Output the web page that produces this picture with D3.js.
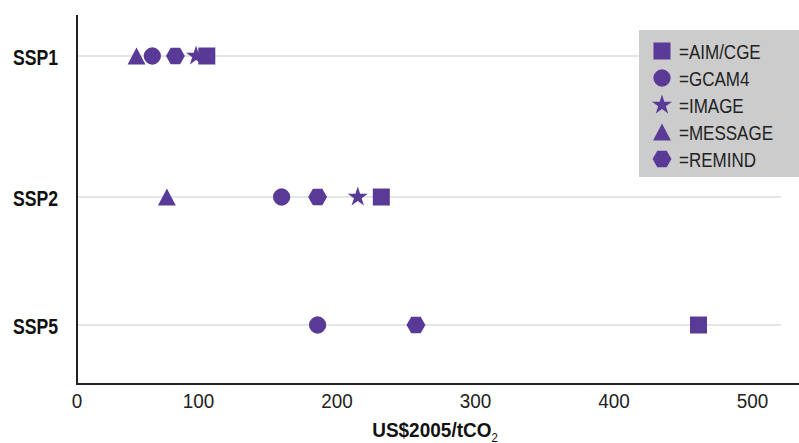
<!DOCTYPE html>
<html><head><meta charset="utf-8">
<script src="https://cdn.jsdelivr.net/npm/d3@7"></script>
<style>
body{margin:0;background:#fff;}
svg{display:block;font-family:"Liberation Sans",Arial,sans-serif;}
</style></head>
<body><svg id="c" width="799" height="443"></svg>
<script>
const scenarios = ["SSP1","SSP2","SSP5"];
const models = ["AIM/CGE","GCAM4","IMAGE","MESSAGE","REMIND"];
const xTicks = [0,100,200,300,400,500];
// carbon price values per model (null = no value), order matches scenarios
const aimcge  = [106, 232, 461];
const gcam4   = [62, 160, 186];
const image   = [98, 215, null];
const message = [49, 74, null];
const remind  = [81, 186, 257];
const seriesValues = [aimcge, gcam4, image, message, remind];

const purple = "#5a3a97";
const svg = d3.select("#c");

const x = d3.scaleLinear().domain([0,100,500]).range([77,198.5,752.5]);
const y = d3.scaleOrdinal().domain(scenarios).range([56,197,325]);

// condensed text helper: horizontal squeeze around anchor point
function squeezed(sel, k){
  sel.each(function(){
    const el=d3.select(this); const px=+el.attr("x"), py=+el.attr("y");
    el.attr("x",0).attr("y",0).attr("transform",`translate(${px},${py}) scale(${k},1)`);
  });
}

// symbol shapes
const hexagon = {draw(ctx,size){const r=Math.sqrt(size/(1.5*Math.sqrt(3)));
  for(let i=0;i<6;i++){const a=i*Math.PI/3;const px=r*Math.cos(a),py=r*Math.sin(a);
    if(i===0)ctx.moveTo(px,py);else ctx.lineTo(px,py);} ctx.closePath();}};
const triangle = {draw(ctx,size){const h=Math.sqrt(size*2*0.94);const w=h/0.94;
  ctx.moveTo(0,-h/2);ctx.lineTo(w/2,h/2);ctx.lineTo(-w/2,h/2);ctx.closePath();}};
const shapes = [
  d3.symbol(d3.symbolSquare, 289),
  d3.symbol(d3.symbolCircle, 235),
  d3.symbol(d3.symbolStar, 125),
  d3.symbol(triangle, 150),
  d3.symbol(hexagon, 232)
];

// gridlines
svg.append("g").selectAll("line").data(scenarios).join("line")
  .attr("x1",77).attr("x2",781).attr("y1",d=>y(d)).attr("y2",d=>y(d))
  .attr("stroke","#dcdcdc").attr("stroke-width",1.6);

// legend box
const lg = svg.append("g");
lg.append("rect").attr("x",639).attr("y",30).attr("width",160).attr("height",147).attr("fill","#cccccc");
models.forEach((m,i)=>{
  const cy = 51 + i*27;
  lg.append("path").attr("d",shapes[i]()).attr("transform",`translate(662,${cy})`).attr("fill",purple);
  lg.append("text").attr("x",679).attr("y",cy+7.5).attr("font-size",21).attr("fill","#222").text("="+m)
    .call(squeezed,0.81);
});

// data markers
seriesValues.forEach((vals,i)=>{
  svg.append("g").selectAll("path").data(vals.map((v,j)=>({v,s:scenarios[j]})).filter(d=>d.v!=null))
    .join("path").attr("d",shapes[i]())
    .attr("transform",d=>`translate(${x(d.v)},${y(d.s)})`).attr("fill",purple);
});

// axes
svg.append("line").attr("x1",77).attr("x2",77).attr("y1",15).attr("y2",384).attr("stroke","#222").attr("stroke-width",2);
svg.append("line").attr("x1",76).attr("x2",799).attr("y1",384).attr("y2",384).attr("stroke","#222").attr("stroke-width",2);

// tick labels
svg.append("g").selectAll("text").data(xTicks).join("text")
  .attr("x",d=>x(d)).attr("y",408).attr("text-anchor","middle").attr("font-size",21).attr("fill","#222").text(d=>d)
  .call(squeezed,0.9);
svg.append("g").selectAll("text").data(scenarios).join("text")
  .attr("x",58).attr("y",d=>y(d)+9).attr("text-anchor","end").attr("font-size",22).attr("font-weight","bold").attr("fill","#111").text(d=>d)
  .call(squeezed,0.8);

// axis title
const t = svg.append("text").attr("x",435).attr("y",437).attr("text-anchor","middle").attr("font-size",20).attr("font-weight","bold").attr("fill","#111");
t.append("tspan").text("US$2005/tCO");
t.append("tspan").attr("font-size",12).attr("font-weight","normal").attr("dy",5).text("2");
t.call(squeezed,0.95);
</script></body></html>
